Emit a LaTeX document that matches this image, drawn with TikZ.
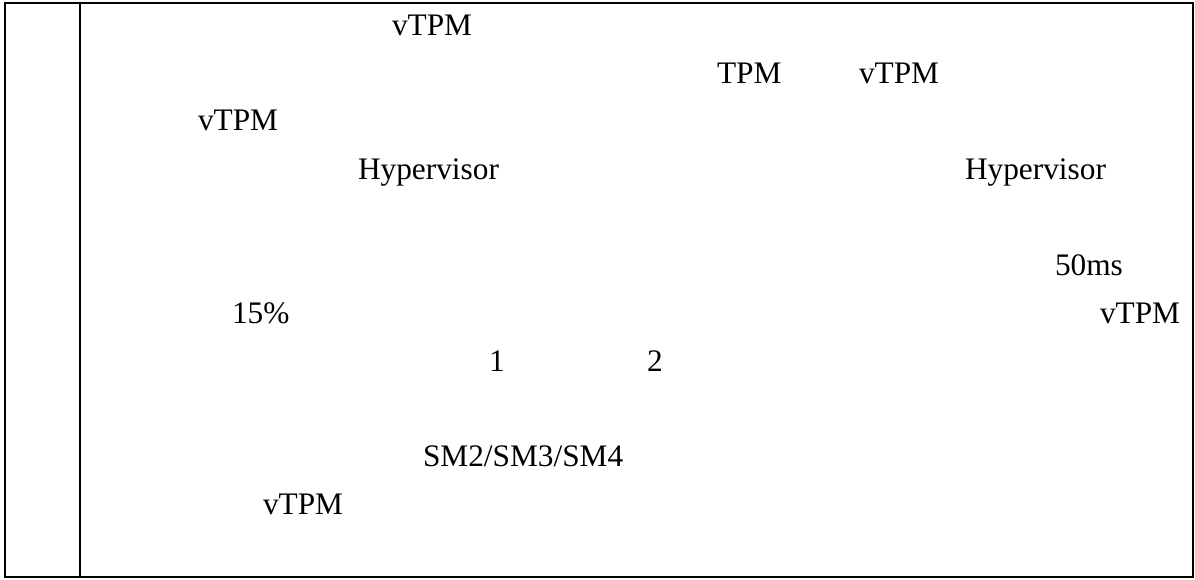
\documentclass[tikz,border=0pt]{standalone}
\usepackage{fontspec}
\setmainfont{Liberation Serif}
\usepackage{tikz}
\usetikzlibrary{positioning}

\begin{document}
\begin{tikzpicture}[
            x=0.75pt, y=-0.75pt,
            outer sep=0pt,
            word/.style={
                anchor=base west, inner sep=0pt, text=black, font=\fontsize{23.5}{28}\selectfont
            },
            rule/.style={
                draw=black, line width=1.5pt
            }
        ]
            \useasboundingbox (0,0) rectangle (1195,579);

            % KHUNG BẢNG
            \draw[rule] (5,3) rectangle (1193,577);
            \draw[rule] (80,3) -- (80,577);

            % --- CHỮ TRONG Ô PHẢI ---
            \node[word] (vtpmA) at (392,35) {vTPM};
            \node[word] (tpm) at (717,83) {TPM};
            \node[word] (vtpmB) at (859,83) {vTPM};
            \node[word] (vtpmC) at (198,130) {vTPM};
            \node[word] (hypA) at (358,179) {Hypervisor};
            \node[word] (hypB) at (965,179) {Hypervisor};
            \node[word] (ms) at (1055,275) {50ms};
            \node[word] (pct) at (232,323) {15\%};
            \node[word] (vtpmD) at (1100,323) {vTPM};
            \node[word] (one) at (489,371) {1};
            \node[word] (two) at (647,371) {2};
            \node[word] (sm) at (423,466) {SM2/SM3/SM4};
            \node[word] (vtpmE) at (263,514) {vTPM};

        \end{tikzpicture}
\end{document}
